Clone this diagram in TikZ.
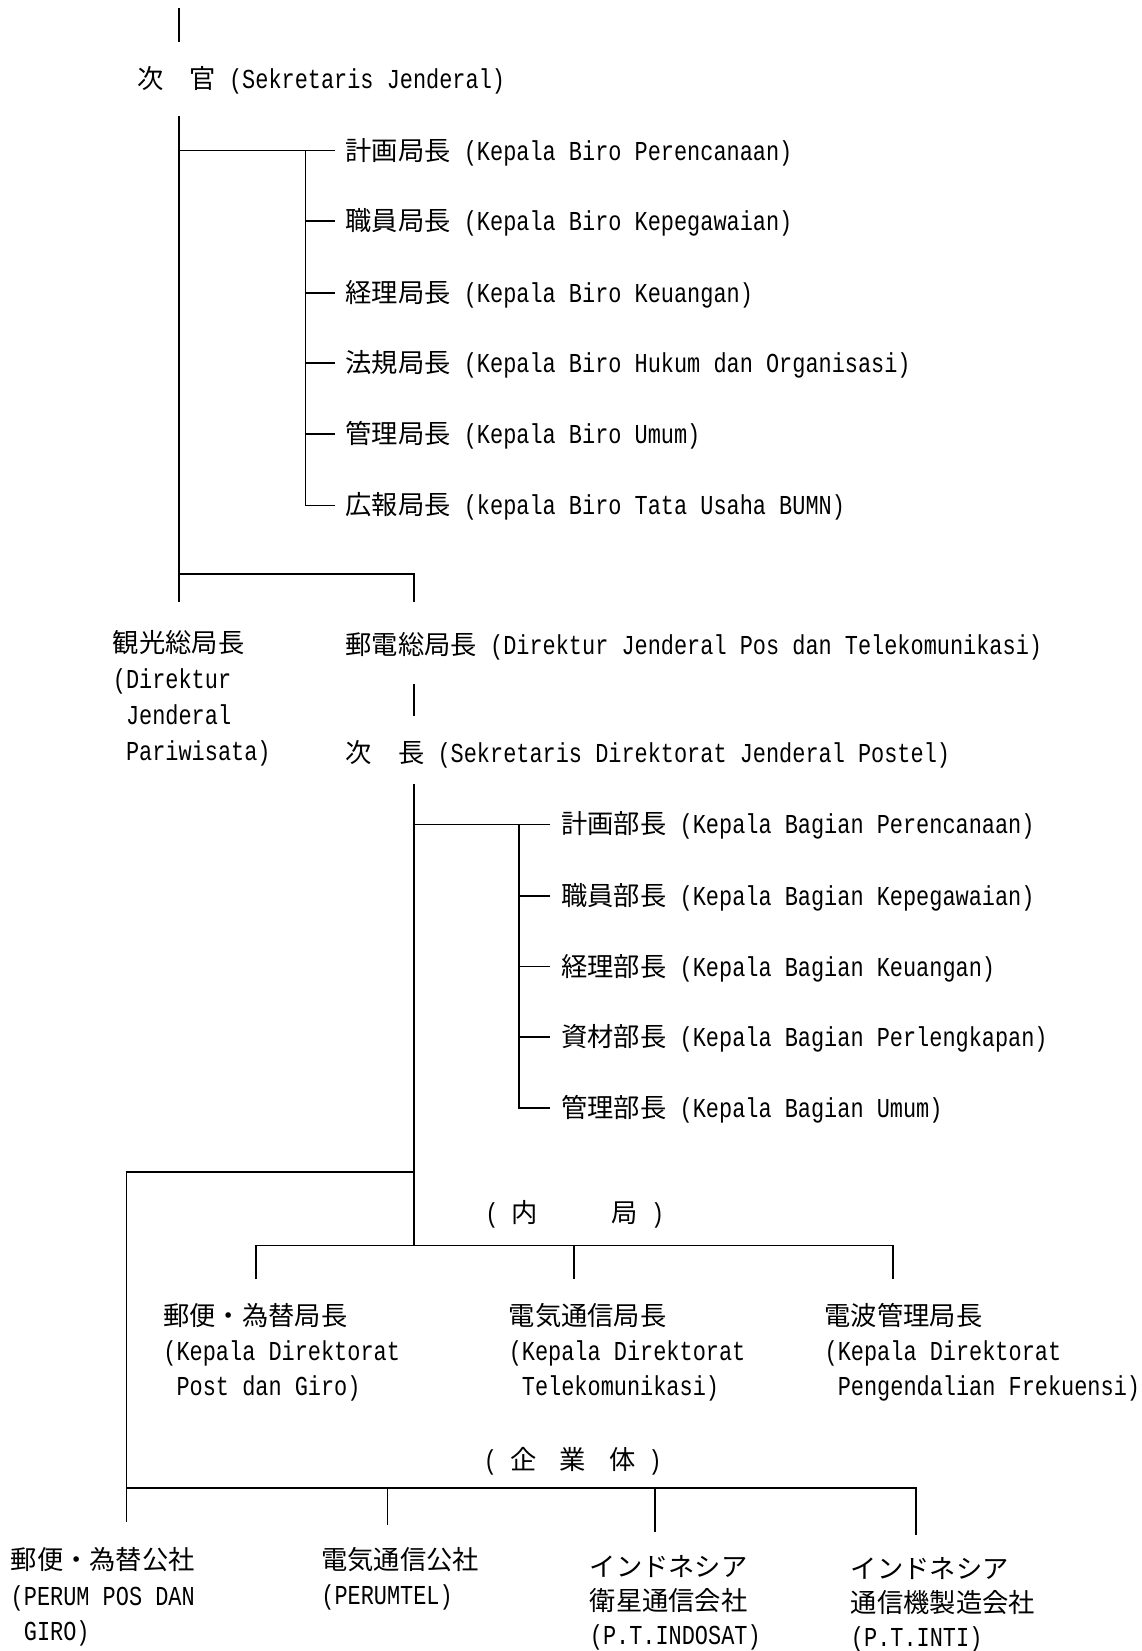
\documentclass[tikz,border=0pt]{standalone}
\usepackage{fontspec}
\setmainfont{Liberation Mono}[FakeStretch=0.8]
\newfontfamily\jp{Noto Sans CJK JP}[Scale=0.96]
\newcommand{\J}[1]{{\jp #1}}
\begin{document}
\begin{tikzpicture}[x=1pt,y=-1pt,
 txt/.style={anchor=base west,inner sep=0pt,align=left,font=\fontsize{26}{33.5}\selectfont},
 lbl/.style={anchor=base,inner sep=0pt,font=\fontsize{26}{33.5}\selectfont},
 ln/.style={line width=1.6pt}]
\useasboundingbox (0,0) rectangle (1084,1568);
\fill[white] (0,0) rectangle (1084,1568);

% ---- nodes (multi-line nodes are placed by the baseline of their last line) ----
\node[txt] (sj) at (130,84) {\J{次　官} (Sekretaris Jenderal)};
\node[txt] (b1) at (328,152) {\J{計画局長} (Kepala Biro Perencanaan)};
\node[txt] (b2) at (328,219) {\J{職員局長} (Kepala Biro Kepegawaian)};
\node[txt] (b3) at (328,287) {\J{経理局長} (Kepala Biro Keuangan)};
\node[txt] (b4) at (328,354) {\J{法規局長} (Kepala Biro Hukum dan Organisasi)};
\node[txt] (b5) at (328,421) {\J{管理局長} (Kepala Biro Umum)};
\node[txt] (b6) at (328,489) {\J{広報局長} (kepala Biro Tata Usaha BUMN)};

\node[txt,font=\fontsize{26}{34}\selectfont] (kanko) at (107,722) {\J{観光総局長}\\(Direktur\\~Jenderal\\~Pariwisata)};
\node[txt] (yuden) at (328,622) {\J{郵電総局長} (Direktur Jenderal Pos dan Telekomunikasi)};
\node[txt] (jicho) at (328,724) {\J{次　長} (Sekretaris Direktorat Jenderal Postel)};

\node[txt] (c1) at (533,792) {\J{計画部長} (Kepala Bagian Perencanaan)};
\node[txt] (c2) at (533,860) {\J{職員部長} (Kepala Bagian Kepegawaian)};
\node[txt] (c3) at (533,927) {\J{経理部長} (Kepala Bagian Keuangan)};
\node[txt] (c4) at (533,994) {\J{資材部長} (Kepala Bagian Perlengkapan)};
\node[txt] (c5) at (533,1061) {\J{管理部長} (Kepala Bagian Umum)};

\node[lbl] (naikyoku) at (546,1161) {( \J{内}\hspace{70pt}\J{局} )};

\node[txt,font=\fontsize{26}{33}\selectfont] (d1) at (155,1325) {\J{郵便・為替局長}\\(Kepala Direktorat\\~Post dan Giro)};
\node[txt,font=\fontsize{26}{33}\selectfont] (d2) at (483,1325) {\J{電気通信局長}\\(Kepala Direktorat\\~Telekomunikasi)};
\node[txt,font=\fontsize{26}{33}\selectfont] (d3) at (783,1325) {\J{電波管理局長}\\(Kepala Direktorat\\~Pengendalian Frekuensi)};

\node[lbl] (kigyo) at (544,1396) {( \J{企}\hspace{22pt}\J{業}\hspace{22pt}\J{体} )};

\node[txt] (e1) at (10,1558) {\J{郵便・為替公社}\\(PERUM POS DAN\\~GIRO)};
\node[txt] (e2) at (305,1524) {\J{電気通信公社}\\(PERUMTEL)};
\node[txt,font=\fontsize{26}{32.5}\selectfont] (e3) at (560,1562) {\J{インドネシア}\\\J{衛星通信会社}\\(P.T.INDOSAT)};
\node[txt,font=\fontsize{26}{32.5}\selectfont] (e4) at (808,1564) {\J{インドネシア}\\\J{通信機製造会社}\\(P.T.INTI)};

% ---- junction coordinates ----
\coordinate (t0) at (170,8);   \coordinate (t1) at (170,40);
\coordinate (m0) at (170,110); \coordinate (ma) at (170,143);
\coordinate (mb) at (170,545); \coordinate (mc) at (170,572);
\coordinate (sa) at (290,143); \coordinate (sb) at (290,480);
\coordinate (b1e) at (318,143); \coordinate (b2e) at (318,210);
\coordinate (b3e) at (318,278); \coordinate (b4e) at (318,345);
\coordinate (b5e) at (318,412); \coordinate (b6e) at (318,480);
\coordinate (b2s) at (290,210); \coordinate (b3s) at (290,278);
\coordinate (b4s) at (290,345); \coordinate (b5s) at (290,412);
\coordinate (ya) at (393,545); \coordinate (yb) at (393,572);
\coordinate (yc) at (393,650); \coordinate (yd) at (393,680);
\coordinate (p0) at (393,745); \coordinate (pa) at (393,783);
\coordinate (pk) at (393,1113); \coordinate (pz) at (393,1183);
\coordinate (qa) at (493,783); \coordinate (qb) at (493,1052);
\coordinate (c1e) at (522,783); \coordinate (c2e) at (522,851);
\coordinate (c3e) at (522,918); \coordinate (c4e) at (522,985);
\coordinate (c5e) at (522,1052);
\coordinate (c2s) at (493,851); \coordinate (c3s) at (493,918);
\coordinate (c4s) at (493,985);
\coordinate (la) at (120,1113); \coordinate (lb) at (120,1413);
\coordinate (lc) at (120,1445);
\coordinate (da) at (243,1183); \coordinate (db) at (243,1215);
\coordinate (dc) at (545,1183); \coordinate (dd) at (545,1215);
\coordinate (de) at (848,1183); \coordinate (df) at (848,1215);
\coordinate (ea) at (368,1413); \coordinate (eb) at (368,1448);
\coordinate (ec) at (622,1413); \coordinate (ed) at (622,1455);
\coordinate (ee) at (870,1413); \coordinate (ef) at (870,1458);

% ---- connectors ----
\draw[ln] (t0) -- (t1);
\draw[ln] (m0) -- (mb) -- (mc);
\draw[ln] (ma) -- (sa) -- (b1e);
\draw[ln] (sa) -- (sb) -- (b6e);
\draw[ln] (b2s) -- (b2e);
\draw[ln] (b3s) -- (b3e);
\draw[ln] (b4s) -- (b4e);
\draw[ln] (b5s) -- (b5e);
\draw[ln] (mb) -- (ya) -- (yb);
\draw[ln] (yc) -- (yd);
\draw[ln] (p0) -- (pz);
\draw[ln] (pa) -- (qa) -- (c1e);
\draw[ln] (qa) -- (qb) -- (c5e);
\draw[ln] (c2s) -- (c2e);
\draw[ln] (c3s) -- (c3e);
\draw[ln] (c4s) -- (c4e);
\draw[ln] (pk) -- (la) -- (lc);
\draw[ln] (db) -- (da) -- (de) -- (df);
\draw[ln] (dc) -- (dd);
\draw[ln] (lb) -- (ee) -- (ef);
\draw[ln] (ea) -- (eb);
\draw[ln] (ec) -- (ed);
\end{tikzpicture}
\end{document}
